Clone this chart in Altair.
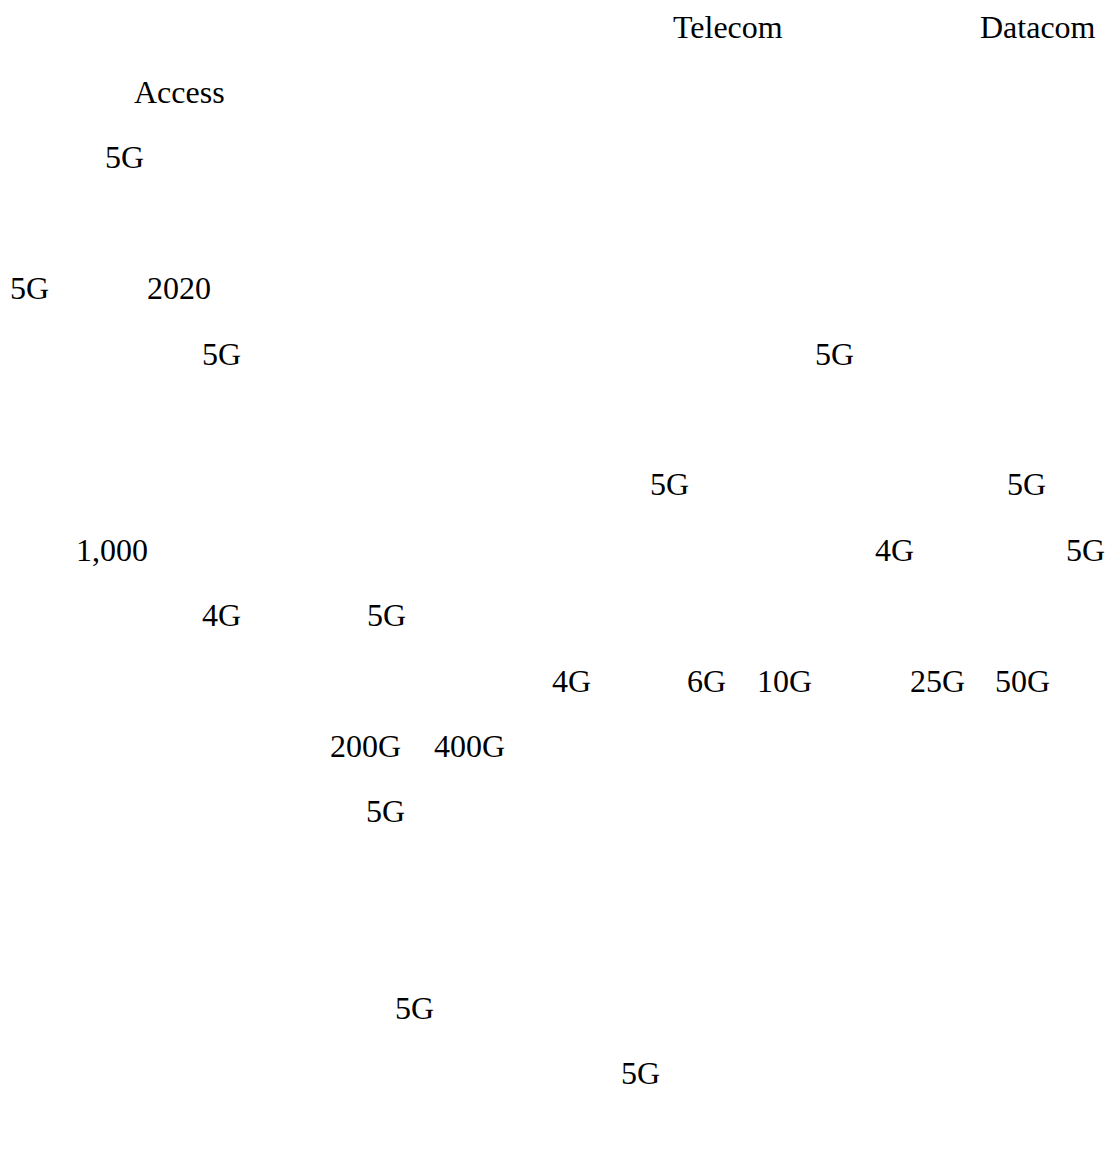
import altair as alt
import pandas as pd

# Words that remain visible on the page (text, horizontal position in px, line number)
words = ["Telecom", "Datacom",
         "Access",
         "5G",
         "5G", "2020",
         "5G", "5G",
         "5G", "5G",
         "1,000", "4G", "5G",
         "4G", "5G",
         "4G", "6G", "10G", "25G", "50G",
         "200G", "400G",
         "5G",
         "5G",
         "5G"]
x_pos = [673, 980,
         134,
         105,
         10, 147,
         202, 815,
         650, 1007,
         76, 875, 1066,
         202, 367,
         552, 687, 757, 910, 995,
         330, 434,
         366,
         395,
         621]
line_no = [0, 0,
           1,
           2,
           4, 4,
           5, 5,
           7, 7,
           8, 8, 8,
           9, 9,
           10, 10, 10, 10, 10,
           11, 11,
           12,
           15,
           16]

FIRST_BASELINE = 37.5
LINE_PITCH = 65.4

df = pd.DataFrame({"word": words, "x": x_pos, "line": line_no})

chart = (
    alt.Chart(df)
    .transform_calculate(y=f"{FIRST_BASELINE} + {LINE_PITCH} * datum.line")
    .mark_text(font="Liberation Serif", fontSize=32, align="left",
               baseline="alphabetic", color="#000000")
    .encode(
        x=alt.X("x:Q", scale=alt.Scale(domain=[8, 1106], nice=False, zero=False), axis=None),
        y=alt.Y("y:Q", scale=alt.Scale(domain=[8, 1143], nice=False, zero=False, reverse=True), axis=None),
        text="word:N",
    )
    .properties(width=1098, height=1135, padding=0, autosize=alt.AutoSizeParams(type="none"))
    .configure(background="white", view=alt.ViewConfig(stroke="transparent", strokeWidth=0))
)

chart.save("out.html", embed_options={"renderer": "svg", "actions": False})
